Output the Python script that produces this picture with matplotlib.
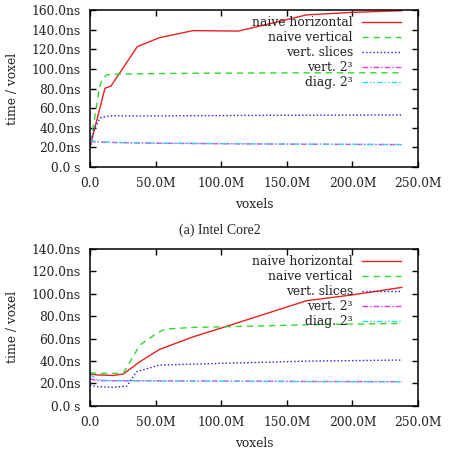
import matplotlib
matplotlib.use("Agg")
import matplotlib.pyplot as plt
from matplotlib.ticker import FixedLocator, FixedFormatter

plt.rcParams['font.family'] = ['DejaVu Serif']

# ---- data (x in millions of voxels, y in ns) ----
series_names = ["naive horizontal", "naive vertical", "vert. slices", "vert. 2³", "diag. 2³"]

x_ticks = [0, 50, 100, 150, 200, 250]
x_tick_labels = ["0.0", "50.0M", "100.0M", "150.0M", "200.0M", "250.0M"]

top_y_ticks = [0, 20, 40, 60, 80, 100, 120, 140, 160]
top_y_labels = ["0.0 s", "20.0ns", "40.0ns", "60.0ns", "80.0ns", "100.0ns", "120.0ns", "140.0ns", "160.0ns"]
bot_y_ticks = [0, 20, 40, 60, 80, 100, 120, 140]
bot_y_labels = ["0.0 s", "20.0ns", "40.0ns", "60.0ns", "80.0ns", "100.0ns", "120.0ns", "140.0ns"]

# Intel Core2
core2_hor_x = [0, 11.4, 16, 36, 53, 78.5, 113, 140, 165, 200, 237.6]
core2_hor_y = [20.7, 80.2, 82.5, 122.6, 131.8, 139, 138.5, 147, 155, 157.6, 159.3]
core2_ver_x = [0, 3, 7.1, 8.9, 12.7, 17.5, 36, 78.5, 165, 237.6]
core2_ver_y = [26, 45, 80, 88.7, 93.8, 94.5, 95, 95.5, 96, 96]
core2_sli_x = [0, 3, 7.6, 12, 17.5, 36, 78.5, 165, 237.6]
core2_sli_y = [19, 38, 50, 51.5, 52.3, 52, 52.3, 52.8, 53]
core2_v23_x = [0, 5, 17.5, 50, 100, 165, 237.6]
core2_v23_y = [26, 25.5, 25, 24.2, 23.7, 23.2, 22.8]
core2_d23_x = [0, 5, 17.5, 50, 100, 165, 237.6]
core2_d23_y = [27, 26, 25, 24.4, 23.8, 23.3, 22.9]

# second machine
m2_hor_x = [0, 5, 17.8, 25.4, 38, 53, 78.8, 103, 165, 200, 237.6]
m2_hor_y = [28.5, 27.5, 27, 28.3, 39.3, 50.3, 61.6, 70.5, 93.8, 99, 105.7]
m2_ver_x = [0, 5, 17.8, 25.4, 38, 50.8, 57, 78.8, 103, 165, 237.6]
m2_ver_y = [29.5, 29, 28.8, 29, 54.2, 64.6, 68.4, 70, 70.5, 72.3, 73.5]
m2_sli_x = [0, 5, 17.8, 28, 35.6, 53, 103, 165, 237.6]
m2_sli_y = [18.5, 17, 16.4, 17.5, 30.4, 36.3, 37.9, 39.8, 40.8]
m2_v23_x = [0, 5, 12, 50, 100, 165, 237.6]
m2_v23_y = [24, 22.5, 22.3, 22.2, 22, 21.7, 21.5]
m2_d23_x = [0, 5, 12, 50, 100, 165, 237.6]
m2_d23_y = [28, 23.5, 22.5, 22.2, 21.8, 21.5, 21.3]

styles = [
    dict(color='#e82020', linestyle='-'),
    dict(color='#30d830', linestyle=(0, (4.5, 3.5))),
    dict(color='#2020d8', linestyle=(0, (1, 1.6))),
    dict(color='#f030f0', linestyle=(0, (4, 1.5, 1, 1.5))),
    dict(color='#30d8e8', linestyle=(0, (4, 1.5, 1, 1.5, 1, 1.5))),
]

FS = 8.8
W, H = 450, 457
fig = plt.figure(figsize=(W / 100, H / 100), dpi=100)

def make_axes(top_px, bottom_px):
    left, right = 90, 418
    return fig.add_axes([left / W, (H - bottom_px) / H, (right - left) / W, (bottom_px - top_px) / H])

def setup(ax, yticks, ylabels, ymax, data):
    for (xs, ys), name, st in zip(data, series_names, styles):
        ax.plot(xs, ys, label=name, linewidth=1.0, **st)
    ax.set_xlim(0, 250)
    ax.set_ylim(0, ymax)
    ax.xaxis.set_major_locator(FixedLocator(x_ticks))
    ax.xaxis.set_major_formatter(FixedFormatter(x_tick_labels))
    ax.yaxis.set_major_locator(FixedLocator(yticks))
    ax.yaxis.set_major_formatter(FixedFormatter(ylabels))
    ax.tick_params(direction='in', top=True, right=True, length=4, width=1,
                   labelsize=FS, colors='black', labelcolor='#222222')
    ax.tick_params(axis='y', pad=6.5)
    ax.tick_params(axis='x', pad=7.5)
    for s in ax.spines.values():
        s.set_linewidth(1.1)
    ax.set_xlabel("voxels", fontsize=FS, color='#222222', labelpad=5.5)
    ax.set_ylabel("time / voxel", fontsize=FS, color='#222222', labelpad=9)
    leg = ax.legend(loc='upper right', frameon=False, markerfirst=False,
                    fontsize=FS, handlelength=3.2, handletextpad=0.7,
                    labelspacing=0.16, borderaxespad=0.0,
                    bbox_to_anchor=(0.962, 0.99))
    for t in leg.get_texts():
        t.set_ha('right')
        t.set_color('#222222')
    leg._legend_box.align = 'right'

ax1 = make_axes(10, 167)
setup(ax1, top_y_ticks, top_y_labels, 160,
      [(core2_hor_x, core2_hor_y), (core2_ver_x, core2_ver_y), (core2_sli_x, core2_sli_y),
       (core2_v23_x, core2_v23_y), (core2_d23_x, core2_d23_y)])

ax2 = make_axes(249, 405.7)
setup(ax2, bot_y_ticks, bot_y_labels, 140,
      [(m2_hor_x, m2_hor_y), (m2_ver_x, m2_ver_y), (m2_sli_x, m2_sli_y),
       (m2_v23_x, m2_v23_y), (m2_d23_x, m2_d23_y)])

fig.text(220 / W, 1 - 230 / H, "(a) Intel Core2", ha='center', va='center',
         fontsize=10, family='Liberation Serif', color='#222222')

fig.savefig("out.png", dpi=100, facecolor='white')
